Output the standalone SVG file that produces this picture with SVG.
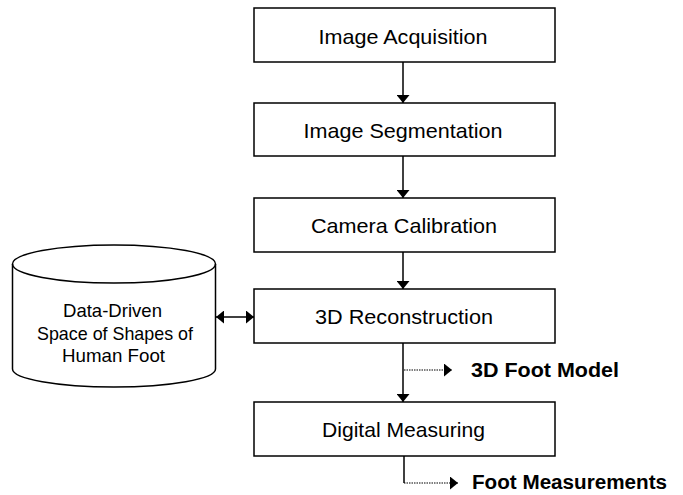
<svg xmlns="http://www.w3.org/2000/svg" width="683" height="495" viewBox="0 0 683 495">
<style>
.box{fill:#fff;stroke:#000;stroke-width:1.5}
.t{font-family:"Liberation Sans",Arial,sans-serif;font-size:21px;fill:#000;text-anchor:middle}
.c{font-family:"Liberation Sans",Arial,sans-serif;font-size:19px;fill:#000;text-anchor:middle}
.b{font-family:"Liberation Sans",Arial,sans-serif;font-size:20px;font-weight:bold;fill:#000}
.ln{fill:none;stroke:#000;stroke-width:1.5}
.dt{fill:none;stroke:#000;stroke-width:1.2;stroke-dasharray:1.5 1}
</style>
<defs>
<marker id="ahw" viewBox="0 0 10 10" refX="10" refY="5" markerWidth="8" markerHeight="13" markerUnits="userSpaceOnUse" orient="auto-start-reverse" preserveAspectRatio="none">
<path d="M0,0 L10,5 L0,10 Z" fill="#000"/>
</marker>
</defs>
<rect width="683" height="495" fill="#fff"/>
<g id="n1"><rect class="box" x="254" y="8" width="301" height="54"/><text class="t" x="403" y="43.5" textLength="169" lengthAdjust="spacingAndGlyphs">Image Acquisition</text></g>
<g id="n2"><rect class="box" x="254" y="103" width="301" height="53"/><text class="t" x="403" y="138" textLength="199" lengthAdjust="spacingAndGlyphs">Image Segmentation</text></g>
<g id="n3"><rect class="box" x="254" y="198" width="301" height="54"/><text class="t" x="404" y="233" textLength="186" lengthAdjust="spacingAndGlyphs">Camera Calibration</text></g>
<g id="n4"><rect class="box" x="254" y="289" width="301" height="54"/><text class="t" x="404" y="324" textLength="178" lengthAdjust="spacingAndGlyphs">3D Reconstruction</text></g>
<g id="n5"><rect class="box" x="254" y="402" width="301" height="54"/><text class="t" x="403.5" y="437" textLength="163" lengthAdjust="spacingAndGlyphs">Digital Measuring</text></g>
<g id="db">
<path class="box" d="M12.5,264 A101.5,19 0 0 1 215.5,264 L215.5,369 A101.5,18 0 0 1 12.5,369 Z"/>
<path class="ln" d="M12.5,264 A101.5,19 0 0 0 215.5,264"/>
<text class="c" x="112.5" y="317" textLength="99" lengthAdjust="spacingAndGlyphs">Data-Driven</text>
<text class="c" x="115" y="339.5" textLength="156" lengthAdjust="spacingAndGlyphs">Space of Shapes of</text>
<text class="c" x="113.5" y="362" textLength="103" lengthAdjust="spacingAndGlyphs">Human Foot</text>
</g>
<g id="out1"><text class="b" x="471" y="377" textLength="148" lengthAdjust="spacingAndGlyphs">3D Foot Model</text></g>
<g id="out2"><text class="b" x="472" y="489" textLength="195" lengthAdjust="spacingAndGlyphs">Foot Measurements</text></g>
<g id="connectors">
<line class="ln" x1="403" y1="62" x2="403" y2="103" marker-end="url(#ahw)"/>
<line class="ln" x1="403" y1="156" x2="403" y2="198" marker-end="url(#ahw)"/>
<line class="ln" x1="403" y1="252" x2="403" y2="289" marker-end="url(#ahw)"/>
<line class="ln" x1="403" y1="343" x2="403" y2="402" marker-end="url(#ahw)"/>
<line class="ln" x1="216" y1="317" x2="254" y2="317" marker-start="url(#ahw)" marker-end="url(#ahw)"/>
<line class="dt" x1="404" y1="370" x2="452" y2="370" marker-end="url(#ahw)"/>
<polyline class="ln" points="404,456 404,483"/>
<line class="dt" x1="404" y1="483" x2="458" y2="483" marker-end="url(#ahw)"/>
</g>
</svg>
